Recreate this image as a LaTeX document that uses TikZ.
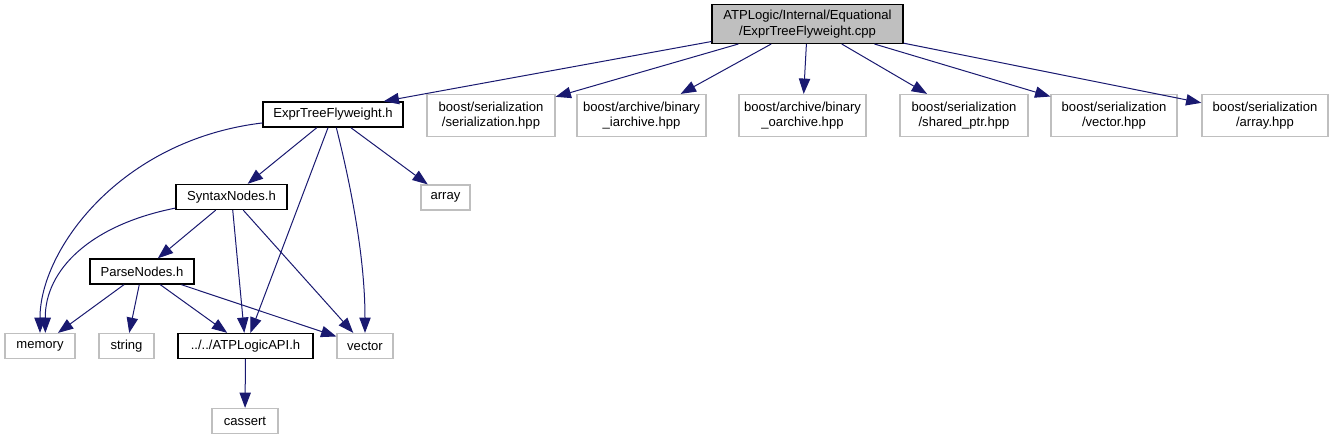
\documentclass[tikz,border=0pt]{standalone}
\usepackage{fontspec}
\setmainfont{Liberation Sans}
\usepackage{tikz}
\usepackage{xcolor}
\usetikzlibrary{arrows.meta}
\definecolor{edgeBlue}{RGB}{25,25,112}
\definecolor{boxGray}{RGB}{191,191,191}
\definecolor{rootGray}{RGB}{191,191,191}

\begin{document}
\begin{tikzpicture}[x=0.75pt,y=-0.75pt,
  every node/.style={font=\fontsize{9.8}{11.5}\selectfont,inner sep=1pt,align=center,minimum height=18.75pt},
  docnode/.style={draw=black,fill=white,line width=1pt},
  extnode/.style={draw=boxGray,fill=white,line width=0.9pt},
  rootnode/.style={draw=black,fill=rootGray,line width=1pt},
  twoline/.style={minimum height=31.5pt},
  inc/.style={draw=edgeBlue,line width=0.75pt,-{Triangle[length=11.5pt,width=8.5pt]}}]
\useasboundingbox (0,0) rectangle (1334,440);
\node[rootnode,minimum width=143.3pt,minimum height=29pt] (root) at (807.5,24) {ATPLogic/Internal/Equational\\/ExprTreeFlyweight.cpp};
\node[docnode,minimum width=105pt] (expr) at (333,114.5) {ExprTreeFlyweight.h};
\node[extnode,twoline,minimum width=96pt] (ser) at (491,115.5) {boost/serialization\\/serialization.hpp};
\node[extnode,twoline,minimum width=96.75pt] (iarch) at (641.5,115.5) {boost/archive/binary\\\_iarchive.hpp};
\node[extnode,twoline,minimum width=95.25pt] (oarch) at (802.5,115.5) {boost/archive/binary\\\_oarchive.hpp};
\node[extnode,twoline,minimum width=96pt] (shptr) at (964,115.5) {boost/serialization\\/shared\_ptr.hpp};
\node[extnode,twoline,minimum width=94.5pt] (vechpp) at (1114,115.5) {boost/serialization\\/vector.hpp};
\node[extnode,twoline,minimum width=94.5pt] (arrhpp) at (1265,115.5) {boost/serialization\\/array.hpp};
\node[extnode,minimum width=36.75pt] (arr) at (445.5,197.5) {array};
\node[docnode,minimum width=83.25pt] (syn) at (231.5,197) {SyntaxNodes.h};
\node[docnode,minimum width=78pt] (parse) at (142,271.5) {ParseNodes.h};
\node[extnode,minimum width=52.5pt] (mem) at (40,346) {memory};
\node[extnode,minimum width=41.25pt] (str) at (126.5,346) {string};
\node[docnode,minimum width=101.25pt] (api) at (245.5,346) {../../ATPLogicAPI.h};
\node[extnode,minimum width=42pt] (vec) at (365,346) {vector};
\node[extnode,minimum width=49.5pt] (cas) at (245,421) {cassert};

\draw[inc] (root) -- ([xshift=-15pt]expr.north east);
\draw[inc] (root) -- (ser);
\draw[inc] (root) -- (iarch);
\draw[inc] (root) -- (oarch);
\draw[inc] (root) -- (shptr);
\draw[inc] (root) -- (vechpp);
\draw[inc] (root) -- (arrhpp);
\draw[inc] (expr) .. controls (120,140) and (40,250) .. (mem);
\draw[inc] (expr) -- (syn);
\draw[inc] (expr) -- (api);
\draw[inc] (expr) .. controls (352,190) and (365,260) .. (vec);
\draw[inc] (expr) -- (arr);
\draw[inc] (syn) .. controls (90,225) and (45,270) .. ([xshift=4pt]mem.north);
\draw[inc] (syn) -- (parse);
\draw[inc] (syn) -- (api);
\draw[inc] (syn) -- (vec);
\draw[inc] (parse) -- (mem);
\draw[inc] (parse) -- (str);
\draw[inc] (parse) -- (api);
\draw[inc] (parse) -- (vec);
\draw[inc] (api) -- (cas);
\end{tikzpicture}
\end{document}
